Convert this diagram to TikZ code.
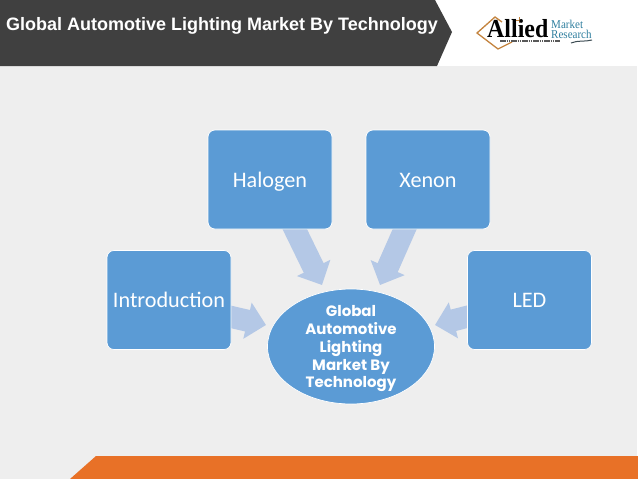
\documentclass[tikz,border=0pt]{standalone}
\usepackage{fontspec}
\setmainfont{Carlito}
\newfontfamily\titlefont{Liberation Sans}
\newfontfamily\hubfont{Poppins}
\newfontfamily\logofont[FakeStretch=.92]{Liberation Serif}
\usetikzlibrary{arrows.meta,shapes.geometric}
\definecolor{boxblue}{HTML}{5B9BD5}
\definecolor{paleblue}{HTML}{B4C8E6}
\definecolor{slide}{HTML}{EEEEEE}
\definecolor{banner}{HTML}{404040}
\definecolor{footer}{HTML}{E87127}
\definecolor{logoteal}{HTML}{2F7F9F}
\definecolor{logobrown}{HTML}{C4843F}
\tikzset{
  techbox/.style={draw=white,line width=.7pt,fill=boxblue,rounded corners=7pt,text=white,font=\fontsize{22.2}{26}\selectfont,minimum width=124pt,minimum height=99pt,inner sep=0pt,text height=18pt,text depth=3pt},
  hub/.style={draw=white,line width=.7pt,fill=boxblue,ellipse,text=white,align=center,font=\hubfont\bfseries\fontsize{15}{17.75}\selectfont,minimum width=167pt,minimum height=115pt,inner sep=-14pt},
  fat/.style={draw=paleblue,line width=22pt,-{Triangle[length=19pt,width=36pt]}},
  logotext/.style={inner sep=0pt,anchor=base west}
}
\begin{document}
\begin{tikzpicture}[x=1pt,y=-1pt]
\useasboundingbox (0,0) rectangle (638,479);
\fill[white] (0,0) rectangle (638,479);
\fill[slide] (0,66) rectangle (637,479);
\fill[banner] (0,0)--(435,0)--(452,32)--(437,66)--(0,66)--cycle;
\fill[footer] (70,479)--(96,456)--(638,456)--(638,479)--cycle;
\node[inner sep=0pt,anchor=base west,text=white,font=\titlefont\bfseries\fontsize{18}{20}\selectfont] (title) at (6,30.5) {Global Automotive Lighting Market By Technology};
% logo
\draw[logobrown,line width=1.3pt] (502,22)--(495,17)--(477,33)--(498,49)--(512,42);
\draw[logobrown,line width=.5pt] (519,17)--(519,23) (516,20)--(522,20);
\node[logotext,font=\logofont\bfseries\fontsize{26}{28}\selectfont] (allied) at (487,37) {Allied};
\node[logotext,align=left,text=logoteal,font=\logofont\fontsize{12}{10}\selectfont] (market) at (551,38) {Market\\Research};
\draw[black!65,line width=2pt,dash pattern=on 1.6pt off .6pt] (500,41)--(560,41);
\draw[banner!80!logoteal,line width=1pt] (571,43)..controls (578,40) and (585,42)..(592,40);
% arrows
\coordinate (halogenout) at (290,219.4);\coordinate (halogenin) at (322,285);
\coordinate (xenonout) at (409,219.4);\coordinate (xenonin) at (380,285);
\coordinate (introout) at (221.5,314.7);\coordinate (introin) at (266,325);
\coordinate (ledout) at (478,314);\coordinate (ledin) at (435,325);
\draw[fat] (halogenout)--(halogenin);\draw[fat] (xenonout)--(xenonin);
\draw[fat] (introout)--(introin);\draw[fat] (ledout)--(ledin);
% boxes
\node[techbox] (halogen) at (270,179.5) {Halogen};
\node[techbox] (xenon) at (428,179.5) {Xenon};
\node[techbox] (intro) at (169,300) {Introduction};
\node[techbox] (led) at (529.5,300) {LED};
\node[hub] (tech) at (351,346.5) {\rule{0pt}{16pt}Global\\Automotive\\Lighting\\Market By\\Technology};
\end{tikzpicture}
\end{document}
